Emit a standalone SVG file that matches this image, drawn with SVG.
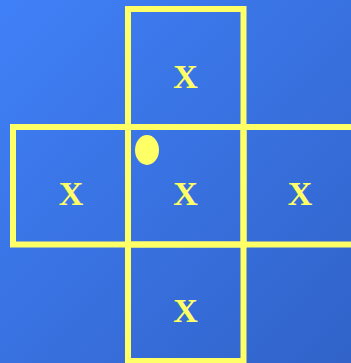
<svg xmlns="http://www.w3.org/2000/svg" width="351" height="363" viewBox="0 0 351 363">
<defs>
<linearGradient id="bg" x1="0" y1="0" x2="1" y2="1">
<stop offset="0" stop-color="#4080f8"/>
<stop offset="1" stop-color="#3163c9"/>
</linearGradient>
</defs>
<style>
.cell{fill:none;stroke:#ffff66;stroke-width:6}
.lbl{fill:#ffff66;font-family:"Liberation Serif","Times New Roman",serif;font-size:34px;font-weight:bold;text-anchor:middle}
</style>
<rect x="0" y="0" width="351" height="363" fill="url(#bg)"/>
<g id="top"><rect class="cell" x="128" y="9" width="115.5" height="118"/><text class="lbl" x="185.5" y="88">X</text></g>
<g id="left"><rect class="cell" x="13" y="127" width="115" height="117.5"/><text class="lbl" x="71" y="205">X</text></g>
<g id="right"><rect class="cell" x="243.5" y="127" width="116" height="117.5"/><text class="lbl" x="300" y="205">X</text></g>
<g id="bottom"><rect class="cell" x="128" y="244.5" width="115.5" height="116.5"/><text class="lbl" x="185.5" y="322">X</text></g>
<g id="center"><rect class="cell" x="128" y="127" width="115.5" height="117.5"/><text class="lbl" x="185.5" y="205">X</text><ellipse cx="147" cy="150" rx="12" ry="15" fill="#ffff66"/></g>
<g id="connectors"/>
</svg>
